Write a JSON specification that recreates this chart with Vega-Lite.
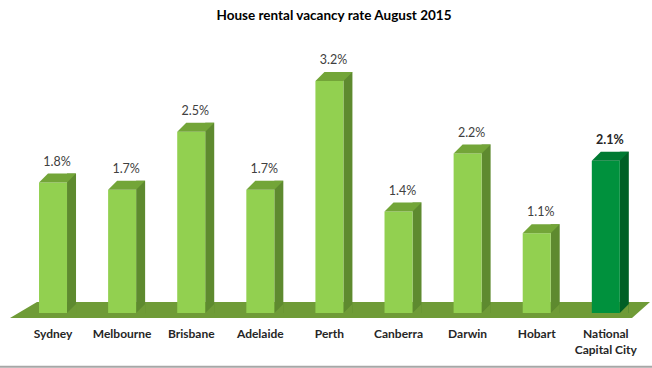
{
  "$schema": "https://vega.github.io/schema/vega-lite/v6.json",
  "width": 652,
  "height": 290,
  "autosize": {"type": "none"},
  "padding": {"top": 23, "left": 0, "right": 0, "bottom": 55},
  "background": "white",
  "config": {"view": {"stroke": null}},
  "title": {
    "text": "House rental vacancy rate August 2015",
    "font": "Lato",
    "fontSize": 13.5,
    "fontWeight": "bold",
    "color": "#000000",
    "anchor": "middle",
    "offset": 1,
    "dx": 8
  },
  "data": {
    "values": [
      {"city": "Sydney", "rate": 0.018, "group": "city"},
      {"city": "Melbourne", "rate": 0.017, "group": "city"},
      {"city": "Brisbane", "rate": 0.025, "group": "city"},
      {"city": "Adelaide", "rate": 0.017, "group": "city"},
      {"city": "Perth", "rate": 0.032, "group": "city"},
      {"city": "Canberra", "rate": 0.014, "group": "city"},
      {"city": "Darwin", "rate": 0.022, "group": "city"},
      {"city": "Hobart", "rate": 0.011, "group": "city"},
      {"city": "National Capital City", "rate": 0.021, "group": "national"}
    ]
  },
  "encoding": {
    "x": {
      "field": "city",
      "type": "nominal",
      "sort": null,
      "scale": {"paddingInner": 0.595, "paddingOuter": 0.5154, "align": 0.548},
      "axis": {
        "title": null,
        "domain": false,
        "ticks": false,
        "tickSize": 0,
        "labelPadding": 15,
        "labelAngle": 0,
        "labelFont": "Lato",
        "labelFontSize": 12,
        "labelFontWeight": "bold",
        "labelColor": "#262626",
        "labelLineHeight": 16,
        "labelExpr": "datum.value == 'National Capital City' ? ['National', 'Capital City'] : datum.label"
      }
    }
  },
  "layer": [
    {
      "data": {"values": [{"item": "floor"}]},
      "mark": {
        "type": "point",
        "shape": "M -3.16 0.08 L -2.89 -0.08 L 3.24 -0.08 L 3.06 0.08 Z",
        "size": 40000,
        "filled": true,
        "opacity": 1,
        "fill": "#6F9B37",
        "strokeWidth": 0
      },
      "encoding": {
        "x": null,
        "y": {"datum": 0.0004, "type": "quantitative", "scale": {"domain": [0, 0.04], "nice": false}, "axis": null}
      }
    },
    {
      "data": {"values": [{"item": "border"}]},
      "mark": {"type": "rule", "color": "#A6A6A6", "strokeWidth": 2},
      "encoding": {
        "x": null,
        "y": {"datum": -0.0074, "type": "quantitative"}
      }
    },
    {
      "mark": {"type": "bar", "width": 9, "xOffset": 18.5, "yOffset": -9, "y2Offset": 0},
      "encoding": {
        "y": {"field": "rate", "type": "quantitative"},
        "y2": {"datum": 0},
        "fill": {"condition": {"test": "datum.group == 'national'", "value": "#005F25"}, "value": "#5E8A2F"}
      }
    },
    {
      "mark": {
        "type": "point",
        "shape": "M 14 0 L 23 -9 L 23 0.6 L 14 0.6 Z",
        "size": 4,
        "filled": true,
        "opacity": 1,
        "fill": "#6F9B37",
        "strokeWidth": 0
      },
      "encoding": {
        "y": {"datum": 0, "type": "quantitative"}
      }
    },
    {
      "mark": {"type": "bar", "width": 28},
      "encoding": {
        "y": {"field": "rate", "type": "quantitative"},
        "y2": {"datum": 0},
        "fill": {"condition": {"test": "datum.group == 'national'", "value": "#00913D"}, "value": "#92D050"}
      }
    },
    {
      "mark": {
        "type": "point",
        "shape": "M -14 0 L 14 0 L 23 -9 L -5 -9 Z",
        "size": 4,
        "filled": true,
        "opacity": 1,
        "strokeWidth": 0
      },
      "encoding": {
        "y": {"field": "rate", "type": "quantitative"},
        "fill": {"condition": {"test": "datum.group == 'national'", "value": "#007A32"}, "value": "#73A538"}
      }
    },
    {
      "transform": [{"filter": "datum.group == 'city'"}],
      "mark": {"type": "text", "font": "Lato", "fontSize": 12.5, "color": "#404040", "baseline": "middle", "dy": -21, "dx": 4},
      "encoding": {
        "y": {"field": "rate", "type": "quantitative"},
        "text": {"field": "rate", "type": "quantitative", "format": ".1%"}
      }
    },
    {
      "transform": [{"filter": "datum.group == 'national'"}],
      "mark": {"type": "text", "font": "Lato", "fontSize": 12.5, "fontWeight": "bold", "color": "#262626", "baseline": "middle", "dy": -21, "dx": 4},
      "encoding": {
        "y": {"field": "rate", "type": "quantitative"},
        "text": {"field": "rate", "type": "quantitative", "format": ".1%"}
      }
    }
  ]
}
